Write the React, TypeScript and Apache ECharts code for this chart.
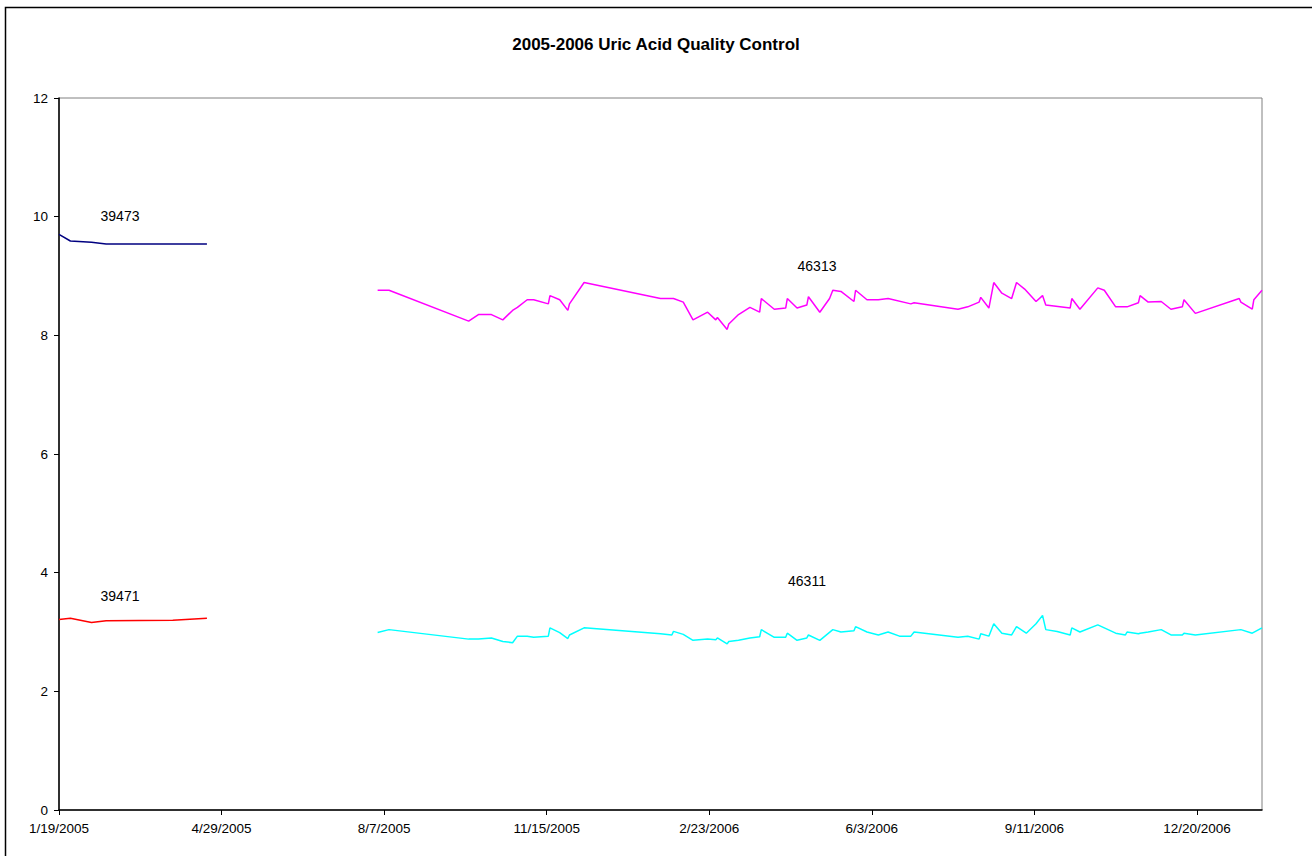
import React, { useEffect, useRef } from "react";
import * as echarts from "echarts";

const title = "2005-2006 Uric Acid Quality Control";
const baseDate = "2005-01-19";
const axisSpanDays = 740;
const tickStepDays = 100;
const yTicks = [0, 2, 4, 6, 8, 10, 12];

const lot39473Dates = ["2005-01-19", "2005-01-26", "2005-02-08", "2005-02-17", "2005-03-30", "2005-04-20"];
const lot39473Values = [9.7, 9.59, 9.57, 9.54, 9.54, 9.54];

const lot39471Dates = ["2005-01-19", "2005-01-26", "2005-02-08", "2005-02-17", "2005-03-30", "2005-04-20"];
const lot39471Values = [3.21, 3.23, 3.16, 3.19, 3.2, 3.23];

const lot46313Dates = [
  "2005-08-03", "2005-08-10", "2005-09-28", "2005-10-04", "2005-10-12", "2005-10-19", "2005-10-25", "2005-10-28",
  "2005-11-03", "2005-11-07", "2005-11-16", "2005-11-17", "2005-11-23", "2005-11-28", "2005-11-29", "2005-12-08",
  "2006-01-24", "2006-02-01", "2006-02-07", "2006-02-13", "2006-02-22", "2006-02-27", "2006-02-28", "2006-03-06",
  "2006-03-07", "2006-03-13", "2006-03-20", "2006-03-26", "2006-03-27", "2006-04-04", "2006-04-11", "2006-04-12",
  "2006-04-18", "2006-04-24", "2006-04-25", "2006-05-02", "2006-05-08", "2006-05-10", "2006-05-15", "2006-05-23",
  "2006-05-24", "2006-05-31", "2006-06-07", "2006-06-13", "2006-06-27", "2006-06-29", "2006-07-26", "2006-08-01",
  "2006-08-08", "2006-08-09", "2006-08-14", "2006-08-17", "2006-08-22", "2006-08-28", "2006-08-31", "2006-09-05",
  "2006-09-12", "2006-09-16", "2006-09-18", "2006-10-03", "2006-10-04", "2006-10-09", "2006-10-20", "2006-10-24",
  "2006-10-31", "2006-11-07", "2006-11-14", "2006-11-15", "2006-11-20", "2006-11-28", "2006-12-04", "2006-12-11",
  "2006-12-12", "2006-12-19", "2007-01-15", "2007-01-16", "2007-01-23", "2007-01-24", "2007-01-29",
];
const lot46313Values = [
  8.76, 8.76, 8.24, 8.35, 8.35, 8.26, 8.42, 8.47,
  8.6, 8.6, 8.53, 8.67, 8.6, 8.42, 8.53, 8.89,
  8.62, 8.62, 8.56, 8.26, 8.39, 8.26, 8.3, 8.1,
  8.19, 8.35, 8.47, 8.39, 8.62, 8.44, 8.46, 8.62,
  8.46, 8.51, 8.65, 8.39, 8.62, 8.76, 8.74, 8.57,
  8.76, 8.6, 8.6, 8.62, 8.53, 8.55, 8.44, 8.48,
  8.56, 8.64, 8.46, 8.89, 8.71, 8.62, 8.89, 8.78,
  8.57, 8.67, 8.51, 8.46, 8.62, 8.44, 8.8, 8.76,
  8.48, 8.48, 8.55, 8.67, 8.56, 8.57, 8.44, 8.48,
  8.6, 8.37, 8.62, 8.56, 8.44, 8.6, 8.76,
];

const lot46311Dates = [
  "2005-08-03", "2005-08-10", "2005-09-28", "2005-10-04", "2005-10-12", "2005-10-19", "2005-10-25", "2005-10-28",
  "2005-11-03", "2005-11-07", "2005-11-16", "2005-11-17", "2005-11-23", "2005-11-28", "2005-11-29", "2005-12-08",
  "2006-01-24", "2006-01-31", "2006-02-01", "2006-02-07", "2006-02-13", "2006-02-22", "2006-02-27", "2006-02-28",
  "2006-03-06", "2006-03-07", "2006-03-13", "2006-03-20", "2006-03-26", "2006-03-27", "2006-04-04", "2006-04-11",
  "2006-04-12", "2006-04-18", "2006-04-24", "2006-04-25", "2006-05-02", "2006-05-10", "2006-05-15", "2006-05-23",
  "2006-05-24", "2006-05-31", "2006-06-07", "2006-06-13", "2006-06-20", "2006-06-27", "2006-06-29", "2006-07-26",
  "2006-08-01", "2006-08-08", "2006-08-09", "2006-08-14", "2006-08-17", "2006-08-22", "2006-08-28", "2006-08-31",
  "2006-09-06", "2006-09-12", "2006-09-16", "2006-09-18", "2006-09-25", "2006-10-03", "2006-10-04", "2006-10-09",
  "2006-10-20", "2006-10-31", "2006-11-06", "2006-11-07", "2006-11-14", "2006-11-15", "2006-11-20", "2006-11-28",
  "2006-12-04", "2006-12-11", "2006-12-12", "2006-12-19", "2007-01-16", "2007-01-23", "2007-01-29",
];
const lot46311Values = [
  2.99, 3.04, 2.88, 2.88, 2.9, 2.84, 2.82, 2.93,
  2.93, 2.91, 2.93, 3.07, 2.99, 2.89, 2.95, 3.07,
  2.97, 2.95, 3.01, 2.96, 2.86, 2.88, 2.87, 2.9,
  2.8, 2.84, 2.86, 2.9, 2.92, 3.04, 2.91, 2.91,
  2.98, 2.86, 2.9, 2.95, 2.86, 3.04, 3.0, 3.02,
  3.09, 3.0, 2.95, 3.0, 2.93, 2.93, 3.0, 2.91,
  2.93, 2.88, 2.97, 2.93, 3.14, 2.98, 2.95, 3.09,
  2.98, 3.14, 3.28, 3.04, 3.01, 2.95, 3.07, 3.0,
  3.12, 2.98, 2.95, 3.0, 2.97, 2.98, 3.0, 3.04,
  2.95, 2.95, 2.98, 2.95, 3.04, 2.98, 3.07,
];

const seriesNames = ["39473", "39471", "46313", "46311"];
const seriesColors = ["#000080", "#FF0000", "#FF00FF", "#00FFFF"];

const DAY = 86400000;
function toUTC(iso: string) {
  const [y, m, d] = iso.split("-").map(Number);
  return Date.UTC(y, m - 1, d);
}
const baseMs = toUTC(baseDate);
function dayOffset(iso: string) {
  return Math.round((toUTC(iso) - baseMs) / DAY);
}
function offsetLabel(v: number) {
  const dt = new Date(baseMs + v * DAY);
  return `${dt.getUTCMonth() + 1}/${dt.getUTCDate()}/${dt.getUTCFullYear()}`;
}
function pairs(dates: string[], values: number[]) {
  return dates.map((d, i) => [dayOffset(d), values[i]]);
}

export default function App() {
  const ref = useRef<HTMLDivElement>(null);
  useEffect(() => {
    if (!ref.current) return;
    const chart = echarts.init(ref.current, null, { renderer: "svg" });
    const font = "Liberation Sans, Arial, sans-serif";
    const dataSets = [
      pairs(lot39473Dates, lot39473Values),
      pairs(lot39471Dates, lot39471Values),
      pairs(lot46313Dates, lot46313Values),
      pairs(lot46311Dates, lot46311Values),
    ];
    const labelPos = [
      [120, 216],
      [120, 596],
      [817, 266],
      [807, 581],
    ];
    chart.setOption({
      animation: false,
      backgroundColor: "#ffffff",
      title: {
        text: title,
        left: "center",
        top: 31,
        textStyle: { fontFamily: font, fontSize: 17, fontWeight: "bold", color: "#000" },
      },
      grid: { left: 59, top: 98, right: 50, bottom: 46, show: true, borderColor: "#808080", borderWidth: 1 },
      xAxis: {
        type: "value",
        min: 0,
        max: axisSpanDays,
        interval: tickStepDays,
        splitLine: { show: false },
        axisLine: { onZero: false, lineStyle: { color: "#000", width: 1.5 } },
        axisTick: { show: true, length: 5, inside: false, lineStyle: { color: "#000" } },
        axisLabel: {
          showMaxLabel: false,
          margin: 11,
          color: "#000",
          fontFamily: font,
          fontSize: 13.5,
          formatter: (v: number) => (v % tickStepDays === 0 ? offsetLabel(v) : ""),
        },
      },
      yAxis: {
        type: "value",
        min: yTicks[0],
        max: yTicks[yTicks.length - 1],
        interval: 2,
        splitLine: { show: false },
        axisLine: { show: true, lineStyle: { color: "#000", width: 1.5 } },
        axisTick: { show: true, length: 5, lineStyle: { color: "#000" } },
        axisLabel: { margin: 11, color: "#000", fontFamily: font, fontSize: 13.5 },
      },
      series: dataSets.map((d, i) => ({
        name: seriesNames[i],
        type: "line",
        data: d,
        showSymbol: false,
        symbol: "none",
        lineStyle: { color: seriesColors[i], width: 1.5 },
        itemStyle: { color: seriesColors[i] },
      })),
      graphic: [
        {
          type: "rect",
          shape: { x: 5.5, y: 7.5, width: 1330, height: 880 },
          style: { fill: "none", stroke: "#000", lineWidth: 1.5 },
          silent: true,
        },
        ...seriesNames.map((n, i) => ({
          type: "text",
          x: labelPos[i][0],
          y: labelPos[i][1],
          style: {
            text: n,
            fontFamily: font,
            fontSize: 14,
            fill: "#000",
            align: "center",
            verticalAlign: "middle",
          },
        })),
      ],
    });
    return () => chart.dispose();
  }, []);
  return (
    <div
      ref={ref}
      style={{ position: "absolute", left: 0, top: 0, width: 1312, height: 856, background: "#fff" }}
    />
  );
}
